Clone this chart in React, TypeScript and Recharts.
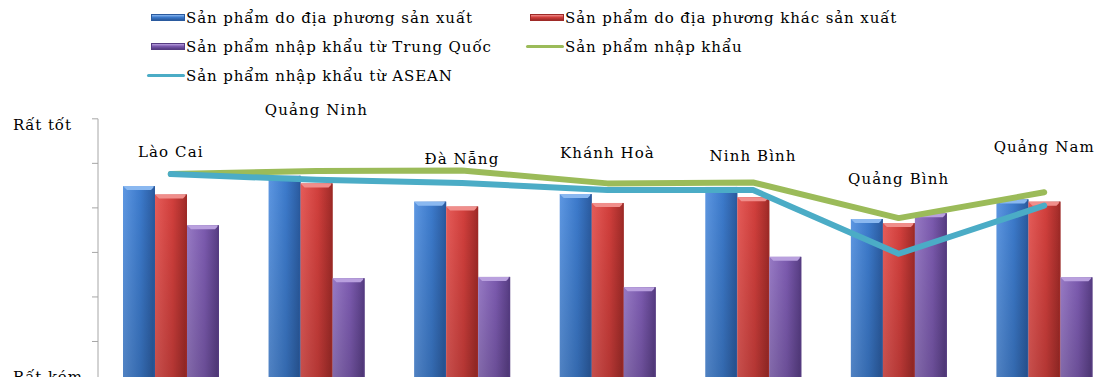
import React from 'react'
import {
  ComposedChart,
  Bar,
  Line,
  XAxis,
  YAxis,
  Legend,
  LabelList,
  ReferenceLine,
} from 'recharts'

// Đánh giá chất lượng sản phẩm theo địa phương (thang Rất kém → Rất tốt)
const categories = ['Lào Cai', 'Quảng Ninh', 'Đà Nẵng', 'Khánh Hoà', 'Ninh Bình', 'Quảng Bình', 'Quảng Nam']
const localMade = [4.49, 4.72, 4.14, 4.31, 4.47, 3.75, 4.19]
const otherProvinceMade = [4.3, 4.55, 4.03, 4.11, 4.24, 3.66, 4.14]
const chinaImports = [3.61, 2.42, 2.45, 2.22, 2.9, 3.88, 2.44]
const allImports = [4.76, 4.83, 4.84, 4.55, 4.57, 3.77, 4.35]
const aseanImports = [4.76, 4.63, 4.56, 4.4, 4.4, 2.97, 4.05]
// height at which each province name sits above its group
const labelLevels = [5.26, 6.2, 5.1, 5.24, 5.17, 4.65, 5.37]

const yTicks = [0, 1, 2, 3, 4, 5, 6]
const yTickLabels = ['Rất kém', '', '', '', '', '', 'Rất tốt']

const seriesNames = {
  local: 'Sản phẩm do địa phương sản xuất',
  other: 'Sản phẩm do địa phương khác sản xuất',
  china: 'Sản phẩm nhập khẩu từ Trung Quốc',
  imports: 'Sản phẩm nhập khẩu',
  asean: 'Sản phẩm nhập khẩu từ ASEAN',
}
const legendOrder = ['local', 'other', 'china', 'imports', 'asean']

const data = categories.map((name, i) => ({
  name,
  local: localMade[i],
  other: otherProvinceMade[i],
  china: chinaImports[i],
  imports: allImports[i],
  asean: aseanImports[i],
  labelLevel: labelLevels[i],
}))

const FONT = '"DejaVu Serif", serif'

type Palette = { light: string; mid: string; dark: string; cap: string }

const palettes: Record<string, Palette> = {
  local: { light: '#5d97e2', mid: '#3c7acb', dark: '#2a5a9e', cap: '#8ab8f0' },
  other: { light: '#e65c59', mid: '#d13f3c', dark: '#9e2a27', cap: '#f08e8b' },
  china: { light: '#977ac4', mid: '#7b5aae', dark: '#563c82', cap: '#b9a0de' },
}

function GlossBar(props: any) {
  const { x, y, width, height, dataKey } = props
  if (!height || height <= 0) return null
  const p = palettes[dataKey]
  const b = Math.min(4, height)
  return (
    <g>
      <rect x={x} y={y} width={width} height={height} fill={`url(#grad-${dataKey})`} />
      <rect x={x} y={y} width={width} height={height} fill="url(#grad-shade)" />
      <polygon
        points={`${x},${y} ${x + width},${y} ${x + width - b},${y + b} ${x + b},${y + b}`}
        fill={p.cap}
      />
      <rect x={x + width - 1.5} y={y} width={1.5} height={height} fill={p.dark} opacity={0.8} />
    </g>
  )
}

function LevelTick({ y, payload }: any) {
  const label = yTickLabels[yTicks.indexOf(payload.value)]
  if (!label) return null
  const dy = payload.value === 6 ? 6 : -9
  return (
    <text
      x={13}
      y={y + dy}
      dominantBaseline="central"
      fontFamily={FONT}
      fontSize={15}
      letterSpacing={0.9}
      fill="#000"
    >
      {label}
    </text>
  )
}

function ProvinceLabel(props: any) {
  const { x, y, value } = props
  return (
    <text
      x={x}
      y={y}
      textAnchor="middle"
      dominantBaseline="central"
      fontFamily={FONT}
      fontSize={15}
      letterSpacing={1.1}
      fill="#000"
    >
      {value}
    </text>
  )
}

function LegendGrid({ payload }: any) {
  const items = (payload || [])
    .filter((e: any) => e.type !== 'none')
    .sort((a: any, b: any) => legendOrder.indexOf(a.dataKey) - legendOrder.indexOf(b.dataKey))
  return (
    <div style={{ position: 'relative', height: 0 }}>
      <div
        style={{
          position: 'absolute',
          left: 147,
          top: 3,
          display: 'grid',
          gridTemplateColumns: '379px 379px',
          gridAutoRows: '29px',
        }}
      >
        {items.map((e: any) => {
          const p = palettes[e.dataKey]
          return (
            <div key={e.dataKey} style={{ display: 'flex', alignItems: 'center', whiteSpace: 'nowrap' }}>
              <div style={{ width: 38, display: 'flex', justifyContent: 'flex-end', marginRight: 1 }}>
                {e.type === 'line' ? (
                  <div style={{ width: 38, height: 3, borderRadius: 2, background: e.color }} />
                ) : (
                  <div
                    style={{
                      width: 34,
                      height: 7,
                      background: `linear-gradient(to bottom, ${p.cap}, ${p.mid} 45%, ${p.dark})`,
                      border: `1px solid ${p.dark}`,
                      boxSizing: 'border-box',
                    }}
                  />
                )}
              </div>
              <span style={{ fontFamily: FONT, fontSize: 15, letterSpacing: 0.9, color: '#000' }}>
                {e.value}
              </span>
            </div>
          )
        })}
      </div>
    </div>
  )
}

export default function App() {
  return (
    <div style={{ margin: -8, width: 1105, height: 385, overflow: 'hidden', position: 'relative', background: '#fff' }}>
      <ComposedChart
        width={1117}
        height={386}
        data={data}
        margin={{ top: 101, right: 0, bottom: 0, left: 0 }}
        barGap={0}
      >
        <defs>
          {Object.entries(palettes).map(([key, p]) => (
            <linearGradient key={key} id={`grad-${key}`} x1="0" y1="0" x2="1" y2="0">
              <stop offset="0%" stopColor={p.light} />
              <stop offset="55%" stopColor={p.mid} />
              <stop offset="100%" stopColor={p.dark} />
            </linearGradient>
          ))}
          <linearGradient id="grad-shade" x1="0" y1="0" x2="0" y2="1">
            <stop offset="0%" stopColor="#000" stopOpacity={0} />
            <stop offset="100%" stopColor="#000" stopOpacity={0.15} />
          </linearGradient>
        </defs>
        <XAxis dataKey="name" hide />
        <YAxis
          domain={[0, 6.4]}
          ticks={yTicks}
          width={98}
          axisLine={false}
          tickLine={{ stroke: '#a6a6a6' }}
          tickSize={6}
          tick={<LevelTick />}
          interval={0}
        />
        <ReferenceLine
          segment={[
            { x: categories[0], y: 0 },
            { x: categories[0], y: 6 },
          ]}
          position="start"
          stroke="#a6a6a6"
          ifOverflow="visible"
        />
        <Legend
          verticalAlign="top"
          content={<LegendGrid />}
          wrapperStyle={{ top: 0, left: 0, width: 1105, height: 0 }}
        />
        <Bar dataKey="local" name={seriesNames.local} fill="#3c7acb" barSize={32} shape={GlossBar} isAnimationActive={false} />
        <Bar dataKey="other" name={seriesNames.other} fill="#d13f3c" barSize={32} shape={GlossBar} isAnimationActive={false} />
        <Bar dataKey="china" name={seriesNames.china} fill="#7b5aae" barSize={32} shape={GlossBar} isAnimationActive={false} />
        <Line
          dataKey="imports"
          name={seriesNames.imports}
          stroke="#9bbb59"
          strokeWidth={6}
          strokeLinecap="round"
          strokeLinejoin="round"
          dot={false}
          activeDot={false}
          isAnimationActive={false}
        />
        <Line
          dataKey="asean"
          name={seriesNames.asean}
          stroke="#4bacc6"
          strokeWidth={6}
          strokeLinecap="round"
          strokeLinejoin="round"
          dot={false}
          activeDot={false}
          isAnimationActive={false}
        />
        <Line
          dataKey="labelLevel"
          stroke="none"
          dot={false}
          activeDot={false}
          legendType="none"
          isAnimationActive={false}
        >
          <LabelList dataKey="name" content={<ProvinceLabel />} />
        </Line>
      </ComposedChart>
    </div>
  )
}
